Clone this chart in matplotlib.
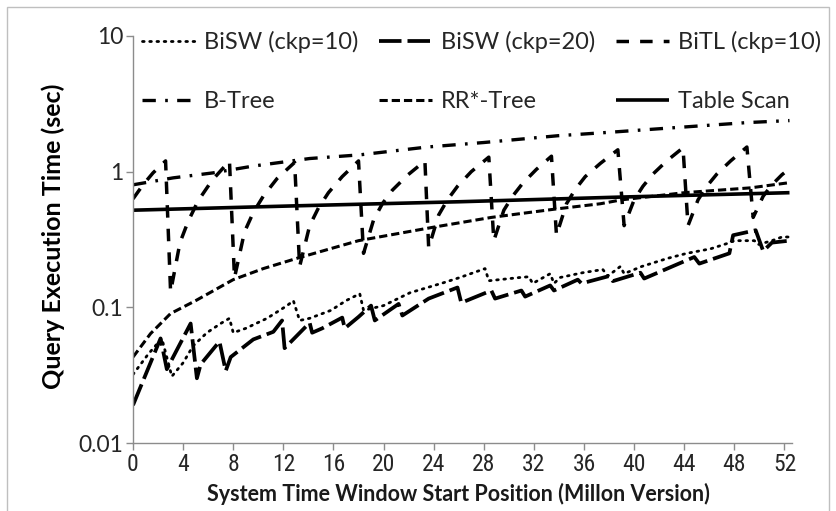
import matplotlib
matplotlib.use("Agg")
import matplotlib.pyplot as plt
from matplotlib.patches import Rectangle

# ---------------- data ----------------
bisw10_x = [0, 1.2, 2.3, 3.1, 4.0, 4.8, 5.9, 7.0, 7.7, 8.0, 9.0, 10.7, 12.3, 12.8, 13.3,
            14.1, 15.8, 17.0, 18.1, 18.4, 20.0, 22.1, 24.8, 26.1, 28.1, 28.4, 30.9, 31.6,
            31.9, 33.3, 33.6, 34.1, 35.9, 37.5, 37.9, 38.9, 39.2, 40.6, 42.7, 44.2, 46.1,
            47.4, 48.0, 49.6, 49.9, 51.0, 51.8, 52.4]
bisw10_y = [0.032, 0.045, 0.059, 0.031, 0.039, 0.052, 0.065, 0.076, 0.083, 0.065, 0.070,
            0.083, 0.103, 0.112, 0.080, 0.083, 0.095, 0.112, 0.126, 0.095, 0.103, 0.128,
            0.152, 0.166, 0.193, 0.157, 0.166, 0.168, 0.150, 0.177, 0.150, 0.166, 0.180,
            0.190, 0.170, 0.200, 0.177, 0.200, 0.230, 0.250, 0.270, 0.295, 0.310, 0.310,
            0.290, 0.310, 0.330, 0.330]

bisw20_x = [0, 2.2, 2.7, 4.6, 5.1, 5.4, 6.9, 7.4, 7.8, 9.6, 11.2, 11.9, 12.1, 14.1, 14.3,
            15.1, 16.7, 16.9, 18.0, 19.0, 19.3, 21.2, 21.5, 23.6, 25.9, 26.2, 28.6, 28.9,
            31.0, 31.3, 33.3, 33.6, 35.5, 35.8, 38.0, 38.3, 40.5, 40.8, 44.8, 45.2, 47.6,
            47.9, 49.7, 50.3, 51.0, 52.4]
bisw20_y = [0.019, 0.059, 0.035, 0.076, 0.030, 0.038, 0.056, 0.034, 0.043, 0.058, 0.066,
            0.080, 0.050, 0.077, 0.065, 0.070, 0.084, 0.070, 0.085, 0.103, 0.080, 0.106,
            0.087, 0.116, 0.140, 0.108, 0.133, 0.116, 0.133, 0.120, 0.145, 0.133, 0.160,
            0.150, 0.170, 0.156, 0.180, 0.163, 0.235, 0.210, 0.250, 0.340, 0.370, 0.260,
            0.300, 0.310]

bitl_x = [0, 0.8, 1.6, 2.6,
          3.0, 3.75, 4.4, 5.2, 6.3, 7.7,
          8.1, 8.9, 9.6, 10.4, 11.5, 12.9,
          13.3, 14.1, 14.8, 15.6, 16.7, 18.0,
          18.4, 19.2, 19.9, 20.7, 21.9, 23.3,
          23.6, 24.4, 25.1, 25.9, 27.0, 28.4,
          28.8, 29.6, 30.3, 31.1, 32.2, 33.4,
          33.8, 34.6, 35.3, 36.1, 37.3, 38.7,
          39.2, 40.0, 40.7, 41.5, 42.6, 43.9,
          44.3, 45.1, 45.8, 46.6, 47.7, 49.0,
          49.5, 50.3, 51.0, 51.8, 52.4]
bitl_y = [0.63, 0.80, 0.98, 1.20,
          0.13, 0.30, 0.43, 0.61, 0.86, 1.20,
          0.165, 0.36, 0.50, 0.66, 0.89, 1.17,
          0.20, 0.40, 0.54, 0.70, 0.92, 1.20,
          0.25, 0.44, 0.58, 0.73, 0.94, 1.20,
          0.275, 0.48, 0.62, 0.78, 1.00, 1.28,
          0.31, 0.52, 0.66, 0.82, 1.04, 1.30,
          0.34, 0.58, 0.74, 0.92, 1.15, 1.45,
          0.40, 0.62, 0.78, 0.96, 1.20, 1.50,
          0.40, 0.62, 0.78, 0.96, 1.20, 1.52,
          0.46, 0.66, 0.80, 0.95, 1.05]

btree_x = [0, 3.2, 6.4, 9.6, 14.1, 18.1, 23.5, 28.0, 33.9, 38.0, 42.9, 49.0, 52.4]
btree_y = [0.80, 0.90, 0.98, 1.10, 1.25, 1.33, 1.52, 1.64, 1.84, 1.95, 2.10, 2.30, 2.38]

rrtree_x = [0, 1.4, 3.0, 5.0, 8.0, 10.4, 13.1, 18.0, 24.0, 28.6, 33.7, 37.3, 39.0, 44.0, 49.3, 52.4]
rrtree_y = [0.043, 0.064, 0.090, 0.112, 0.160, 0.193, 0.230, 0.310, 0.390, 0.460, 0.530,
            0.580, 0.620, 0.700, 0.760, 0.830]

scan_x = [0, 13, 26, 39, 52.4]
scan_y = [0.52, 0.56, 0.60, 0.65, 0.70]

x_ticks = list(range(0, 53, 4))
y_ticks = [0.01, 0.1, 1, 10]
y_tick_labels = ["0.01", "0.1", "1", "10"]

labels = ["BiSW (ckp=10)", "BiSW (ckp=20)", "BiTL (ckp=10)", "B-Tree", "RR*-Tree", "Table Scan"]

# ---------------- figure ----------------
plt.rcParams['font.family'] = ['Lato', 'DejaVu Sans']
NARROW = ['Roboto Condensed', 'Lato']
W, H = 836, 511
fig = plt.figure(figsize=(W / 100, H / 100), dpi=100)
ax = fig.add_axes([133 / W, 1 - 443 / H, (792 - 133) / W, (443 - 36) / H])

styles = {
    "BiSW (ckp=10)": dict(lw=2.0, ls=(0, (0.6, 2.0)), cap='round'),
    "BiSW (ckp=20)": dict(lw=2.7, ls=(0, (6.0, 1.6)), cap='butt'),
    "BiTL (ckp=10)": dict(lw=2.5, ls=(0, (3.6, 3.2)), cap='butt'),
    "B-Tree": dict(lw=2.4, ls=(0, (4.0, 2.8, 0.8, 2.8)), cap='butt'),
    "RR*-Tree": dict(lw=2.2, ls=(0, (2.7, 1.3)), cap='butt'),
    "Table Scan": dict(lw=2.6, ls='-', cap='butt'),
}
series = {
    "BiSW (ckp=10)": (bisw10_x, bisw10_y),
    "BiSW (ckp=20)": (bisw20_x, bisw20_y),
    "BiTL (ckp=10)": (bitl_x, bitl_y),
    "B-Tree": (btree_x, btree_y),
    "RR*-Tree": (rrtree_x, rrtree_y),
    "Table Scan": (scan_x, scan_y),
}
handles = {}
for name in labels:
    xs, ys = series[name]
    st = styles[name]
    ln, = ax.plot(xs, ys, color='black', label=name, linestyle=st['ls'], linewidth=st['lw'],
                  dash_capstyle=st['cap'], solid_capstyle='butt')
    handles[name] = ln

ax.set_yscale('log')
ax.set_ylim(0.01, 10)
ax.set_xlim(0, 52.6)
ax.set_xticks(x_ticks)
ax.set_xticklabels([str(t) for t in x_ticks])
ax.set_yticks(y_ticks)
ax.set_yticklabels(y_tick_labels)
ax.yaxis.set_minor_locator(matplotlib.ticker.NullLocator())

for s in ['top', 'right']:
    ax.spines[s].set_visible(False)
for s in ['left', 'bottom']:
    ax.spines[s].set_color('#8c8c8c')
    ax.spines[s].set_linewidth(1.0)
ax.tick_params(axis='both', which='major', direction='out', length=5, width=1.0, color='#8c8c8c')
ax.tick_params(axis='y', labelsize=16.5, labelcolor='#262626', pad=2)
ax.tick_params(axis='x', labelsize=17, labelcolor='#262626', pad=2)
for t in ax.get_xticklabels():
    t.set_family(NARROW)

fig.text(53 / W, 1 - 236 / H, "Query Execution Time (sec)", fontsize=18, fontweight='bold',
         color='black', rotation=90, ha='center', va='center')
fig.text(458 / W, 1 - 494 / H, "System Time Window Start Position (Millon Version)",
         fontsize=15.5, fontweight='bold', color='#1a1a1a', ha='center', va='center')

order = ["BiSW (ckp=10)", "B-Tree", "BiSW (ckp=20)", "RR*-Tree", "BiTL (ckp=10)", "Table Scan"]
leg = ax.legend([handles[n] for n in order], order, ncol=3, loc='upper left',
                bbox_to_anchor=(142 / W, 1 - 31 / H), bbox_transform=fig.transFigure,
                frameon=False, fontsize=17, handlelength=2.25, handletextpad=0.38,
                columnspacing=0.87, labelspacing=1.6, borderpad=0, borderaxespad=0)
for t in leg.get_texts():
    t.set_color('#262626')

# light outer frame of the original picture
fig.patches.append(Rectangle((7 / W, -0.05), (829 - 7) / W, 1.05 - 7 / H,
                             transform=fig.transFigure, fill=False,
                             edgecolor='#bfbfbf', linewidth=1.0))

fig.savefig("out.png", dpi=100)
